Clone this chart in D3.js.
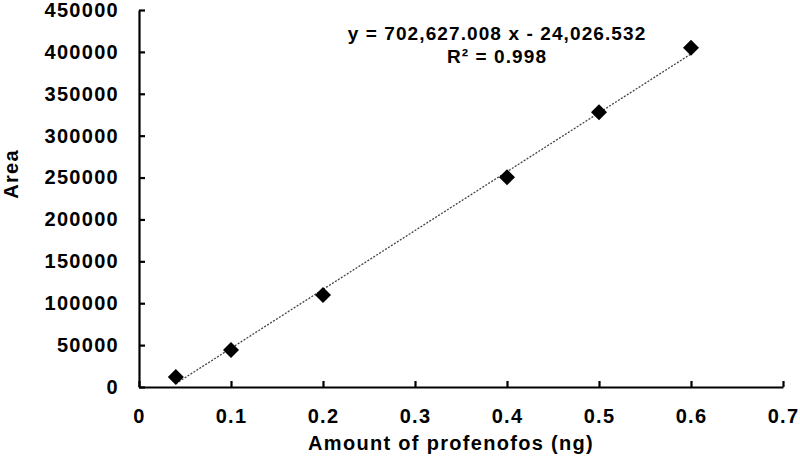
<!DOCTYPE html>
<html>
<head>
<meta charset="utf-8">
<script src="https://cdn.jsdelivr.net/npm/d3@7"></script>
<style>
  body { margin: 0; background: #fff; }
  text { font-family: "Liberation Sans", Arial, sans-serif; font-weight: bold; fill: #000; }
</style>
</head>
<body>
<script>
// data
var amounts = [0.04, 0.1, 0.2, 0.4, 0.5, 0.6];
var areas = [11900, 44200, 109800, 250500, 328000, 405000];
var xTicks = [0, 0.1, 0.2, 0.3, 0.4, 0.5, 0.6, 0.7];
var yTicks = [0, 50000, 100000, 150000, 200000, 250000, 300000, 350000, 400000, 450000];
// trendline as printed on the chart
var slope = 702627.008, intercept = -24026.532;
var eqLines = ['y = 702,627.008 x - 24,026.532', 'R\u00b2 = 0.998'];

var _w = 800, _h = 466;
var plotL = 139, plotR = 783, plotT = 10, plotB = 387;

var svg = d3.select('body').append('svg')
    .attr('width', _w)
    .attr('height', _h);

var x = d3.scaleLinear().domain([0, 0.7]).range([plotL, plotR]);
var y = d3.scaleLinear().domain([0, 450000]).range([plotB, plotT]);

svg.append('g')
    .attr('transform', 'translate(0,' + plotB + ')')
    .call(d3.axisBottom(x).tickValues(xTicks).tickSizeInner(-6).tickSizeOuter(0).tickPadding(22)
        .tickFormat(function(d) { return d === 0 ? '0' : d3.format('.1f')(d) }));

svg.append('g')
    .attr('transform', 'translate(' + plotL + ',0)')
    .call(d3.axisLeft(y).tickValues(yTicks).tickSizeInner(-6).tickSizeOuter(0).tickPadding(20)
        .tickFormat(d3.format('d')));

svg.selectAll('.domain, .tick line').attr('stroke', '#000').attr('stroke-width', 2.2);
svg.selectAll('.tick text')
    .style('font-size', '20px')
    .style('letter-spacing', '1.3px')
    .style('font-family', '"Liberation Sans", Arial, sans-serif')
    .style('font-weight', 'bold');

// trendline
var x0 = amounts[0], x1 = amounts[amounts.length - 1];
svg.append('line')
    .attr('x1', x(x0)).attr('y1', y(slope * x0 + intercept))
    .attr('x2', x(x1)).attr('y2', y(slope * x1 + intercept))
    .attr('stroke', '#444')
    .attr('stroke-width', 1.3)
    .attr('stroke-dasharray', '2,1.5');

// diamonds
svg.selectAll('path.pt')
    .data(amounts)
    .enter().append('path')
    .attr('class', 'pt')
    .attr('d', 'M0,-8L8,0L0,8L-8,0Z')
    .attr('transform', function(d, i) { return 'translate(' + x(d) + ',' + y(areas[i]) + ')' })
    .attr('fill', '#000');

// equation
svg.selectAll('text.eq')
    .data(eqLines)
    .enter().append('text')
    .attr('class', 'eq')
    .attr('x', 497)
    .attr('y', function(d, i) { return 40 + i * 23 })
    .attr('text-anchor', 'middle')
    .style('font-size', '19px')
    .style('letter-spacing', '1.1px')
    .text(function(d) { return d });

// axis titles
svg.append('text')
    .attr('x', 451).attr('y', 450)
    .attr('text-anchor', 'middle')
    .style('font-size', '20px')
    .style('letter-spacing', '1.3px')
    .text('Amount of profenofos (ng)');

svg.append('text')
    .attr('transform', 'translate(18,174) rotate(-90)')
    .attr('text-anchor', 'middle')
    .style('font-size', '20px')
    .style('letter-spacing', '1.3px')
    .text('Area');
</script>
</body>
</html>
